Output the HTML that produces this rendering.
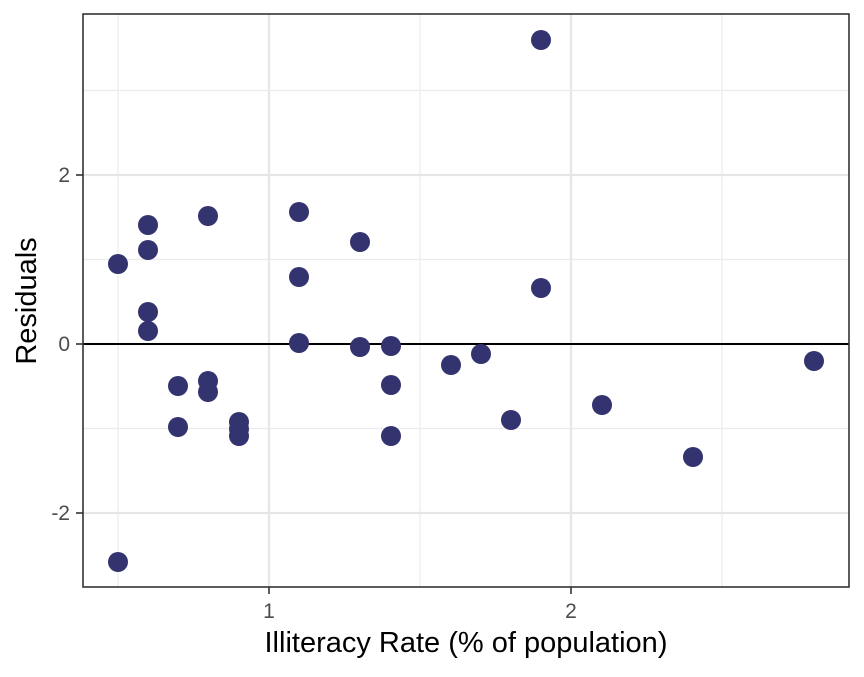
<!DOCTYPE html>
<html><head><meta charset="utf-8"><style>body{margin:0;background:#fff}</style></head><body>
<svg width="864" height="672" xmlns="http://www.w3.org/2000/svg" font-family="Liberation Sans, sans-serif">
<rect width="864" height="672" fill="#fff"/>
<g stroke="#ebebeb" stroke-width="1.2">
<line x1="118" y1="14" x2="118" y2="587"/><line x1="420" y1="14" x2="420" y2="587"/><line x1="722" y1="14" x2="722" y2="587"/>
<line x1="83" y1="90.5" x2="849" y2="90.5"/><line x1="83" y1="259.5" x2="849" y2="259.5"/><line x1="83" y1="428.5" x2="849" y2="428.5"/>
</g>
<g stroke="#e6e6e6" stroke-width="2.2">
<line x1="269" y1="14" x2="269" y2="587"/><line x1="571" y1="14" x2="571" y2="587"/>
<line x1="83" y1="175" x2="849" y2="175"/><line x1="83" y1="344" x2="849" y2="344"/><line x1="83" y1="513" x2="849" y2="513"/>
</g>
<line x1="83" y1="344" x2="849" y2="344" stroke="#000" stroke-width="2"/>
<g fill="#33336f">
<circle cx="118" cy="264" r="10"/><circle cx="118" cy="562" r="10"/><circle cx="148" cy="225" r="10"/><circle cx="148" cy="250" r="10"/><circle cx="148" cy="312" r="10"/><circle cx="148" cy="331" r="10"/><circle cx="178" cy="386" r="10"/><circle cx="178" cy="427" r="10"/><circle cx="208" cy="216" r="10"/><circle cx="208" cy="381" r="10"/><circle cx="208" cy="392" r="10"/><circle cx="239" cy="422" r="10"/><circle cx="239" cy="429" r="10"/><circle cx="239" cy="436" r="10"/><circle cx="299" cy="212" r="10"/><circle cx="299" cy="277" r="10"/><circle cx="299" cy="343" r="10"/><circle cx="360" cy="242" r="10"/><circle cx="360" cy="347" r="10"/><circle cx="391" cy="346" r="10"/><circle cx="391" cy="385" r="10"/><circle cx="391" cy="436" r="10"/><circle cx="451" cy="365" r="10"/><circle cx="481" cy="354" r="10"/><circle cx="511" cy="420" r="10"/><circle cx="541" cy="40" r="10"/><circle cx="541" cy="288" r="10"/><circle cx="602" cy="405" r="10"/><circle cx="693" cy="457" r="10"/><circle cx="814" cy="361" r="10"/>
</g>
<rect x="83" y="14" width="766" height="573" fill="none" stroke="#333" stroke-width="1.6"/>
<g stroke="#333" stroke-width="1.6">
<line x1="76" y1="175" x2="83" y2="175"/><line x1="76" y1="344" x2="83" y2="344"/><line x1="76" y1="513" x2="83" y2="513"/>
<line x1="269" y1="587" x2="269" y2="594"/><line x1="571" y1="587" x2="571" y2="594"/>
</g>
<g fill="#4d4d4d" font-size="21" text-anchor="end">
<text x="70" y="182">2</text><text x="70" y="351">0</text><text x="70" y="520">-2</text>
</g>
<g fill="#4d4d4d" font-size="21" text-anchor="middle">
<text x="269" y="618">1</text><text x="571" y="618">2</text>
</g>
<text x="466" y="652" font-size="29" text-anchor="middle" fill="#000">Illiteracy Rate (% of population)</text>
<text transform="translate(36,301) rotate(-90)" font-size="29" text-anchor="middle" fill="#000">Residuals</text>
</svg>
</body></html>
